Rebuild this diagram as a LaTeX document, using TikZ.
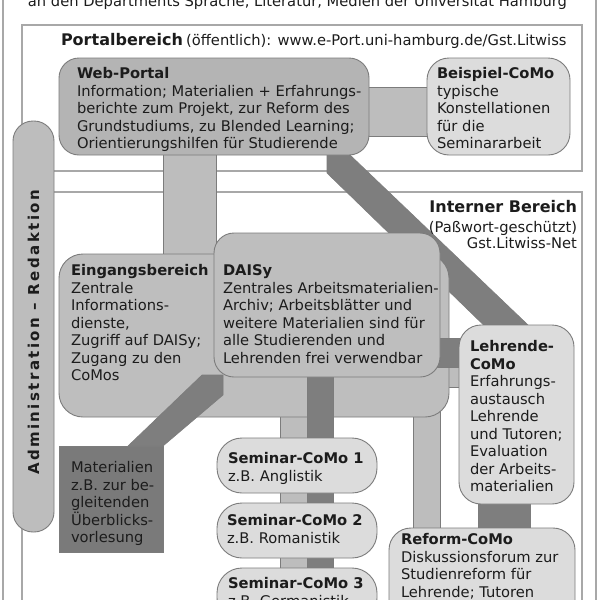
\documentclass[tikz,border=0pt]{standalone}
\usepackage{fontspec}
\setmainfont{DejaVu Sans}
\newcommand\bodyfont{\fontsize{14.7}{17.5}\selectfont}
\newcommand\headfont{\fontsize{16}{19}\selectfont\bfseries}
\newcommand\adminfont{\fontsize{15}{18}\selectfont\bfseries\addfontfeature{LetterSpace=16}}
\definecolor{wpcol}{HTML}{B4B4B4}
\definecolor{midcol}{HTML}{BEBEBE}
\definecolor{lightcol}{HTML}{DCDCDC}
\definecolor{darkcol}{HTML}{7A7A7A}
\definecolor{barlight}{HTML}{BDBDBD}
\definecolor{bardark}{HTML}{7E7E7E}
\definecolor{bordercol}{HTML}{7C7C7C}
\definecolor{areacol}{HTML}{A8A8A8}
\definecolor{txtcol}{HTML}{1C1C1C}
\pgfdeclarelayer{back}
\pgfdeclarelayer{mid}
\pgfdeclarelayer{bigbox}
\pgfdeclarelayer{over}
\pgfsetlayers{back,mid,bigbox,over,main}
\begin{document}
\begin{tikzpicture}[x=1pt,y=-1pt,
  every node/.style={inner sep=0pt, outer sep=0pt},
  area/.style={draw=areacol, line width=1.2pt, fill=white},
  frameline/.style={draw=areacol, line width=1.2pt},
  box/.style={draw=bordercol, line width=0.9pt, rounded corners=20pt, anchor=north west},
  txt/.style={anchor=north west, align=left, font=\bodyfont, text=txtcol},
  lightbar/.style={fill=barlight, draw=bordercol, line width=0.6pt},
  darkbar/.style={fill=bardark, draw=bordercol, line width=0.6pt}]
\useasboundingbox (0,0) rectangle (600,600);

% ---------- boxes ----------
\node[box, fill=wpcol, minimum width=310pt, minimum height=97pt] (wp) at (59,58) {};
\node[box, fill=lightcol, rounded corners=22pt, minimum width=143pt, minimum height=97pt] (bsp) at (427,58) {};
\begin{pgfonlayer}{bigbox}
\node[box, fill=midcol, rounded corners=24pt, minimum width=390pt, minimum height=163pt] (eing) at (59,254) {};
\end{pgfonlayer}
\node[box, fill=midcol, minimum width=226pt, minimum height=144pt] (daisy) at (214,233) {};
\node[box, fill=darkcol, sharp corners, minimum width=104pt, minimum height=106pt] (mat) at (59,446) {};
\node[box, fill=lightcol, rounded corners=25pt, minimum width=160pt, minimum height=55pt] (sc1) at (217,438) {};
\node[box, fill=lightcol, rounded corners=25pt, minimum width=160pt, minimum height=55pt] (sc2) at (217,503) {};
\node[box, fill=lightcol, rounded corners=25pt, minimum width=160pt, minimum height=55pt] (sc3) at (217,568) {};
\node[box, fill=lightcol, rounded corners=22pt, minimum width=115pt, minimum height=179pt] (lehr) at (459,325) {};
\node[box, fill=lightcol, rounded corners=22pt, minimum width=186pt, minimum height=120pt] (ref) at (389,528) {};

% ---------- areas ----------
\begin{pgfonlayer}{back}
\draw[frameline] (3,-10) -- (3,610);
\draw[frameline] (596,-10) -- (596,610);
\draw[area] (22,25) rectangle (582,171);
\draw[area] (22,192) rectangle (582,620);
\node[box, fill=barlight, minimum width=41pt, minimum height=411pt] (admin) at (13,121) {};
\end{pgfonlayer}

% ---------- connectors under the big box ----------
\begin{pgfonlayer}{mid}
\filldraw[darkbar] (327,150) -- (327,173) -- (493.9,335) -- (538.5,335) -- (344.8,150) -- cycle;
\filldraw[lightbar] (163,0 |- wp.center) rectangle (216,0 |- eing.center);
\filldraw[lightbar] (wp.center |- 0,87) rectangle (bsp.center |- 0,136);
\filldraw[lightbar] (280,0 |- eing.center) rectangle (307,620);
\filldraw[lightbar] (413,0 |- eing.center) rectangle (440,0 |- ref.center);
\filldraw[lightbar] (eing.center |- 0,367) rectangle (lehr.center |- 0,387);
\filldraw[darkbar] (478,0 |- lehr.center) rectangle (530,0 |- ref.center);
\end{pgfonlayer}

% ---------- connectors over the big box ----------
\begin{pgfonlayer}{over}
\filldraw[darkbar] (307,0 |- daisy.center) rectangle (333,620);
\filldraw[darkbar] (daisy.center |- 0,338) rectangle (lehr.center |- 0,367);
\filldraw[darkbar] (128,0 |- mat.north) -- (202,375) -- (223,375) -- (223,395) -- (163,0 |- mat.north) -- cycle;
\end{pgfonlayer}

% ---------- texts ----------
\node[anchor=base, font=\bodyfont, text=txtcol] (title) at (297.5,6.5) {an den Departments Sprache, Literatur, Medien der Universität Hamburg};
\node[anchor=base west, text=txtcol] (ptitle) at (61,45.5) {{\headfont Portalbereich} \bodyfont(öffentlich): www.e-Port.uni-hamburg.de/Gst.Litwiss};
\node[anchor=base east, text=txtcol, font=\headfont] (intA) at (577,212) {Interner Bereich};
\node[anchor=base east, text=txtcol, font=\bodyfont] (intB) at (577,232) {(Paßwort-geschützt)};
\node[anchor=base east, text=txtcol, font=\bodyfont] (intC) at (577,248.5) {Gst.Litwiss-Net};
\node[rotate=90, font=\adminfont, text=txtcol] (admintext) at (33.5,332.5) {Administration – Redaktion};

\node[txt] (wpt) at (77,66.7) {\strut\textbf{Web-Portal}\\Information; Materialien + Erfahrungs-\\berichte zum Projekt, zur Reform des\\Grundstudiums, zu Blended Learning;\\Orientierungshilfen für Studierende};
\node[txt] (bspt) at (437,66.7) {\strut\textbf{Beispiel-CoMo}\\typische\\Konstellationen\\für die\\Seminararbeit};
\node[txt] (eingt) at (71,263.7) {\strut\textbf{Eingangsbereich}\\Zentrale\\Informations-\\dienste,\\Zugriff auf DAISy;\\Zugang zu den\\CoMos};
\node[txt] (daisyt) at (223,263.7) {\strut\textbf{DAISy}\\Zentrales Arbeitsmaterialien-\\Archiv; Arbeitsblätter und\\weitere Materialien sind für\\alle Studierenden und\\Lehrenden frei verwendbar};
\node[txt] (matt) at (71,460.7) {\strut Materialien\\z.B. zur be-\\gleitenden\\Überblicks-\\vorlesung};
\node[txt] (sc1t) at (228,451.7) {\strut\textbf{Seminar-CoMo 1}\\z.B. Anglistik};
\node[txt] (sc2t) at (227,513.7) {\strut\textbf{Seminar-CoMo 2}\\z.B. Romanistik};
\node[txt] (sc3t) at (228,576.7) {\strut\textbf{Seminar-CoMo 3}\\z.B. Germanistik};
\node[txt] (lehrt) at (470,339.7) {\strut\textbf{Lehrende-}\\\textbf{CoMo}\\Erfahrungs-\\austausch\\Lehrende\\und Tutoren;\\Evaluation\\der Arbeits-\\materialien};
\node[txt] (reft) at (401,532.7) {\strut\textbf{Reform-CoMo}\\Diskussionsforum zur\\Studienreform für\\Lehrende; Tutoren};
\end{tikzpicture}
\end{document}
